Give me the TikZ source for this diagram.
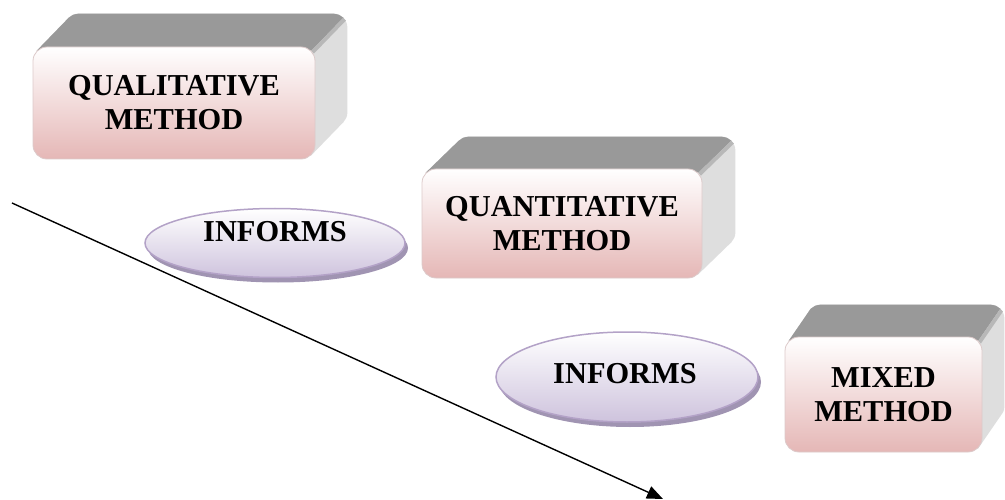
\documentclass[tikz,border=0pt]{standalone}
\usepackage{fontspec}
\setmainfont{Liberation Serif}
\usetikzlibrary{arrows.meta,shadows,backgrounds,calc,shapes.geometric}
\definecolor{pinkbot}{HTML}{E5B7B6}
\definecolor{facebord}{HTML}{DCCACA}
\definecolor{topgray}{HTML}{999999}
\definecolor{sidegray}{HTML}{DEDEDE}
\definecolor{lavbot}{HTML}{CEC3DD}
\definecolor{lavbord}{HTML}{B3A2C7}
\definecolor{lavshadow}{HTML}{A094B2}
\tikzset{
  frontface/.style={rectangle, rounded corners=14pt, top color=white, bottom color=pinkbot,
    draw=facebord, line width=0.8pt, align=center, inner sep=0pt,
    font=\fontsize{30.4}{34}\selectfont\bfseries},
  topface/.style={fill=topgray},
  sideface/.style={fill=sidegray},
  informs/.style={ellipse, top color=white, bottom color=lavbot, draw=lavbord, line width=1.5pt,
    drop shadow={shadow xshift=3pt, shadow yshift=-5pt, fill=lavshadow, opacity=1}},
  lbl/.style={font=\fontsize{30.4}{34}\selectfont\bfseries, inner sep=0pt},
  flow/.style={line width=1.4pt, -{Triangle[length=16pt,width=13pt]}}
}
% #1 front node, (#2,#3) depth offset right/up
\newcommand{\extrude}[3]{%
  \begin{scope}[on background layer]
    \coordinate (#1bnw) at ($(#1.north west)+(#2,-#3)$);
    \coordinate (#1bne) at ($(#1.north east)+(#2,-#3)$);
    \coordinate (#1bse) at ($(#1.south east)+(#2,-#3)$);
    % side (whole hull)
    \fill[sideface, rounded corners=14pt] (#1bnw) rectangle (#1bse);
    \fill[sideface] ($(#1.north west)+(4.1,4.1)$) -- ($(#1bnw)+(4.1,4.1)$)
      -- ($(#1bse)+(-4.1,-4.1)$) -- ($(#1.south east)+(-4.1,-4.1)$) -- cycle;
    % top face
    \fill[topface] ($(#1.north west)+(4.1,4.1)$) -- ($(#1bnw)+(4.1,4.1)$)
      -- ($(#1bnw)+(8.64,1.07)$) -- ($(#1bnw)+(14,0)$)
      -- ($(#1bne)+(-14,0)$) -- ($(#1bne)+(-8.64,1.07)$) -- ($(#1bne)+(-4.1,4.1)$)
      -- ($(#1.north east)+(-4.1,4.1)$) -- ($(#1.north west)+(14,14)$) -- cycle;
    % soft edge between top and side
    \fill[topgray!55!sidegray] ($(#1bne)+(-4.1,4.1)$) -- ($(#1.north east)+(-4.1,4.1)$)
      -- ($(#1.north east)+(-1.5,7)$) -- ($(#1bne)+(-1.5,7)$) -- cycle;
  \end{scope}}
\begin{document}
\begin{tikzpicture}[x=1pt,y=-1pt]
\useasboundingbox (0,0) rectangle (1005,500);
% boxes
\node[frontface, minimum width=282pt, minimum height=112pt] (q1) at (174,103) {QUALITATIVE\\METHOD};
\extrude{q1}{32}{33}
\node[frontface, minimum width=280pt, minimum height=109pt] (q2) at (562,223.5) {QUANTITATIVE\\METHOD};
\extrude{q2}{33}{32}
\node[frontface, minimum width=197pt, minimum height=115pt] (q3) at (883.5,394.5) {MIXED\\METHOD};
\extrude{q3}{22}{32}
% arrow
\coordinate (as) at (12,203);
\coordinate (ae) at (663,499);
\draw[flow] (as) -- (ae);
% ellipses
\node[informs, minimum width=260pt, minimum height=69pt, inner sep=0pt] (e1) at (275,243) {};
\node[lbl] (t1) at (275,232) {INFORMS};
\node[informs, minimum width=262pt, minimum height=90pt, inner sep=0pt] (e2) at (627,377) {};
\node[lbl] (t2) at (625,374) {INFORMS};
\end{tikzpicture}
\end{document}
